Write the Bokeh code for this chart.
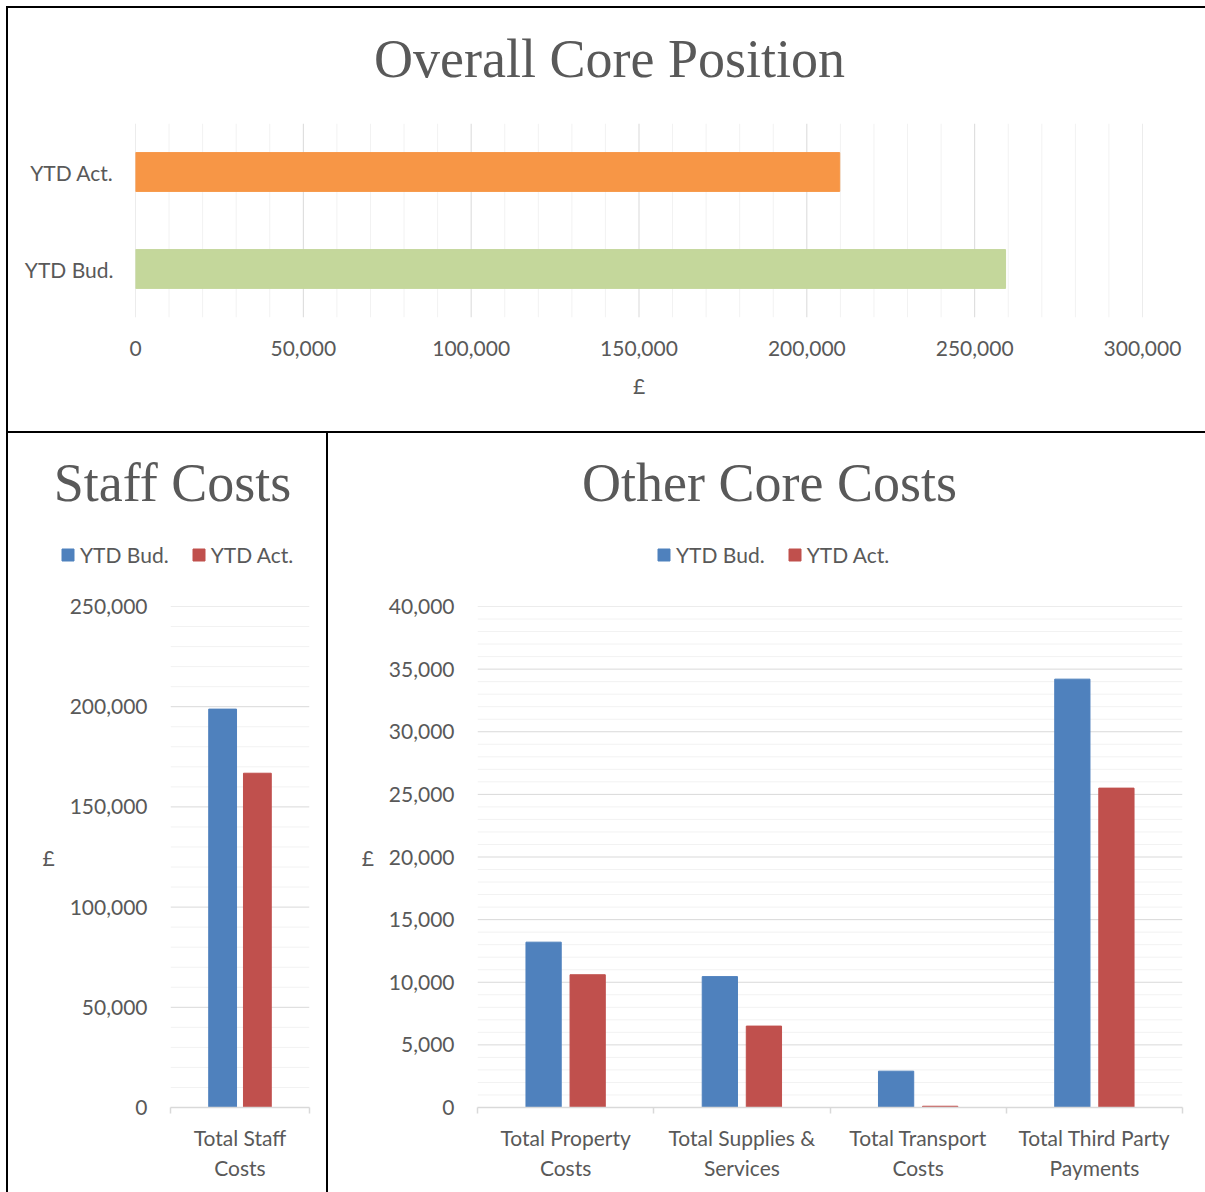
import numpy as np
from bokeh.plotting import figure
from bokeh.models import (Range1d, FactorRange, FixedTicker, NumeralTickFormatter,
                          Legend, LegendItem, Label, Span)
from bokeh.layouts import column, row
from bokeh.embed import file_html
from bokeh.resources import INLINE

# ---------------- data ----------------
overall_labels = ["YTD Bud.", "YTD Act."]
overall_values = [259200, 209800]
overall_colors = ["#c4d79b", "#f79646"]
overall_ticks = [0, 50000, 100000, 150000, 200000, 250000, 300000]
overall_minor_step = 10000

series_names = ["YTD Bud.", "YTD Act."]
series_colors = ["#4f81bd", "#c0504d"]

staff_categories = ["Total Staff\nCosts"]
staff_bud = [198800]
staff_act = [166800]
staff_ticks = [0, 50000, 100000, 150000, 200000, 250000]
staff_minor_step = 10000

other_categories = ["Total Property\nCosts", "Total Supplies &\nServices",
                    "Total Transport\nCosts", "Total Third Party\nPayments"]
other_bud = [13200, 10450, 2900, 34200]
other_act = [10600, 6500, 100, 25500]
other_ticks = [0, 5000, 10000, 15000, 20000, 25000, 30000, 35000, 40000]
other_minor_step = 1000

TEXT = "#595959"
FONT = "Lato"
TFONT = "Liberation Serif"
FS = "21px"
MAJ = "#d9d9d9"
MIN = "#f2f2f2"
WHITE = {"background-color": "#ffffff"}


def base_fig(width, height, **kw):
    p = figure(width=width, height=height, output_backend="svg", toolbar_location=None,
               styles=WHITE, **kw)
    p.outline_line_color = None
    p.border_fill_color = "#ffffff"
    p.background_fill_color = "#ffffff"
    p.frame_align = False
    return p


def header(width, height, text, cx, baseline):
    h = base_fig(width, height, x_axis_type=None, y_axis_type=None,
                 x_range=Range1d(0, 1), y_range=Range1d(0, 1),
                 min_border_left=0, min_border_right=0, min_border_top=0,
                 min_border_bottom=0)
    h.add_layout(Label(x=cx, y=baseline, x_units="screen", y_units="screen", text=text,
                       text_align="center", text_baseline="alphabetic",
                       text_font=TFONT, text_font_size="54px", text_color=TEXT))
    return h


def gridlines(p, ticks, minor_step, dimension):
    majors = set(ticks)
    for v in range(ticks[0], ticks[-1] + 1, minor_step):
        if v not in majors:
            p.add_layout(Span(location=v, dimension=dimension, line_color=MIN,
                              line_width=1, level="underlay"))
    for v in ticks:
        p.add_layout(Span(location=v, dimension=dimension, line_color=MAJ,
                          line_width=1, level="underlay"))


def style_labels(ax, standoff):
    ax.major_label_text_font = FONT
    ax.major_label_text_font_size = FS
    ax.major_label_text_color = TEXT
    ax.major_label_standoff = standoff


def style_axis_title(ax, text, standoff):
    ax.axis_label = text
    ax.axis_label_text_font = FONT
    ax.axis_label_text_font_size = FS
    ax.axis_label_text_font_style = "normal"
    ax.axis_label_text_color = TEXT
    ax.axis_label_standoff = standoff


# ---------------- top chart ----------------
h1 = header(1197, 92, "Overall Core Position", 601, 42)

p1 = base_fig(1197, 331, x_range=Range1d(0, overall_ticks[-1]),
              y_range=FactorRange(*overall_labels),
              min_border_left=127, min_border_right=63,
              min_border_top=23, min_border_bottom=114)
p1.hbar(y=overall_labels, right=overall_values, height=0.4, color=overall_colors)
p1.grid.visible = False
gridlines(p1, overall_ticks, overall_minor_step, "height")
xa = p1.xaxis[0]
xa.ticker = FixedTicker(ticks=overall_ticks)
xa.formatter = NumeralTickFormatter(format="0,0")
xa.axis_line_color = None
xa.major_tick_line_color = None
xa.minor_tick_line_color = None
style_labels(xa, 17)
style_axis_title(xa, "£", 14)
ya = p1.yaxis[0]
ya.axis_line_color = None
ya.major_tick_line_color = None
ya.minor_tick_line_color = None
style_labels(ya, 16)


# ---------------- column charts ----------------
def column_chart(width, categories, bud, act, ticks, minor_step, mb_left, mb_right):
    n = len(categories)
    p = base_fig(width, 612, x_range=Range1d(0, n), y_range=Range1d(0, ticks[-1]),
                 min_border_left=mb_left, min_border_right=mb_right,
                 min_border_top=26, min_border_bottom=85)
    centers = np.arange(n) + 0.5
    p.vbar(x=centers - 0.125, top=bud, width=0.2, color=series_colors[0])
    p.vbar(x=centers + 0.125, top=act, width=0.2, color=series_colors[1])
    p.grid.visible = False
    gridlines(p, ticks, minor_step, "width")

    xa = p.xaxis[0]
    xa.ticker = FixedTicker(ticks=[float(c) for c in centers],
                            minor_ticks=[float(i) for i in range(n + 1)])
    xa.major_label_overrides = {float(c): lab for c, lab in zip(centers, categories)}
    xa.axis_line_color = MAJ
    xa.axis_line_width = 1.5
    xa.major_tick_line_color = None
    xa.major_tick_out = 0
    xa.major_tick_in = 0
    xa.minor_tick_line_color = MAJ
    xa.minor_tick_line_width = 1.5
    xa.minor_tick_out = 6
    xa.minor_tick_in = 0
    style_labels(xa, 11)
    xa.major_label_text_line_height = 1.2

    ya = p.yaxis[0]
    ya.ticker = FixedTicker(ticks=ticks)
    ya.formatter = NumeralTickFormatter(format="0,0")
    ya.axis_line_color = None
    ya.major_tick_line_color = None
    ya.minor_tick_line_color = None
    style_labels(ya, 17)
    style_axis_title(ya, "£", 12)
    ya.axis_label_orientation = "horizontal"
    return p


def chart_header(width, title, cx, legend_x):
    h = header(width, 147, title, cx, 98)
    # legend swatches only: one undrawn (NaN) point so the legend can take its colour
    r_bud = h.vbar(x=[np.nan], top=[np.nan], width=0.2, color=series_colors[0])
    r_act = h.vbar(x=[np.nan], top=[np.nan], width=0.2, color=series_colors[1])
    lg = Legend(items=[LegendItem(label=series_names[0], renderers=[r_bud]),
                       LegendItem(label=series_names[1], renderers=[r_act])],
                location=(legend_x, 13), orientation="horizontal",
                label_text_font=FONT, label_text_font_size=FS, label_text_color=TEXT,
                glyph_width=15, glyph_height=15, label_standoff=5, spacing=22,
                padding=0, margin=0, border_line_color=None,
                background_fill_alpha=0)
    h.add_layout(lg)
    return h


h2 = chart_header(318, "Staff Costs", 164, 52)
p2 = column_chart(318, staff_categories, staff_bud, staff_act, staff_ticks,
                  staff_minor_step, 162, 17)
h3 = chart_header(877, "Other Core Costs", 441, 328)
p3 = column_chart(877, other_categories, other_bud, other_act, other_ticks,
                  other_minor_step, 149, 23)

top = column(h1, p1, spacing=0, styles=WHITE)
bottom = row(column(h2, p2, spacing=0, styles=WHITE),
             column(h3, p3, spacing=0, styles=WHITE), spacing=2)
layout = column(top, bottom, spacing=2, margin=(6, 0, 0, 6),
                styles={"background-color": "#000000", "padding-left": "2px",
                        "padding-top": "2px"})

open("out.html", "w").write(file_html(layout, INLINE))
